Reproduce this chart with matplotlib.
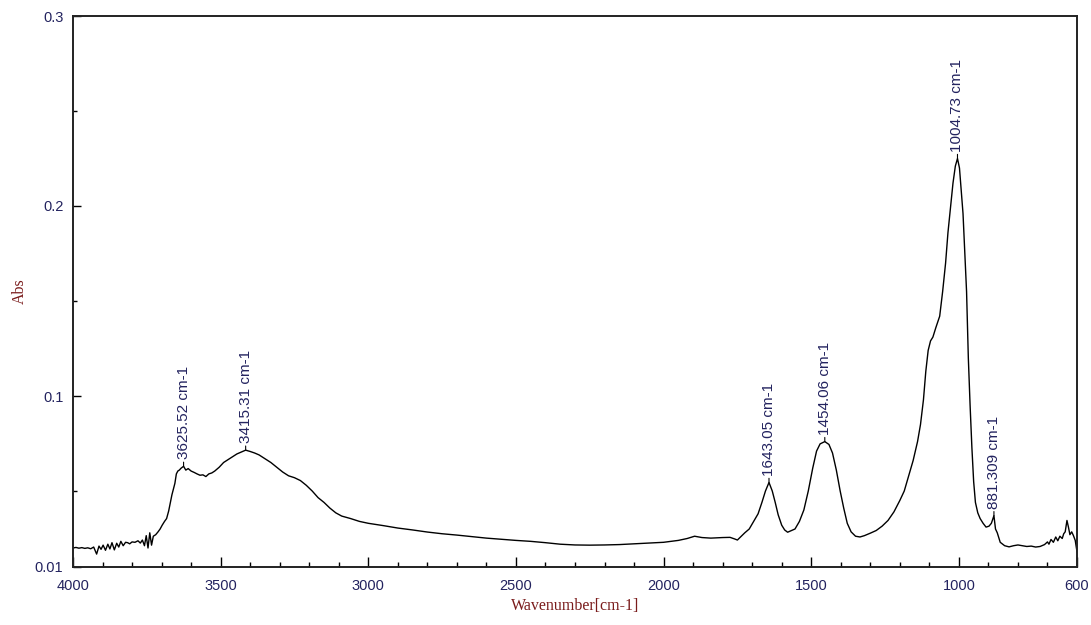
import matplotlib.pyplot as plt
from matplotlib.ticker import MultipleLocator, FixedLocator

# spectrum (wavenumber in cm-1, absorbance)
wavenumber = [
    4000, 3990, 3980, 3970, 3960, 3950, 3940, 3930, 3920, 3912, 3905, 3898,
    3890, 3882, 3875, 3868, 3860, 3852, 3845, 3838, 3830, 3822, 3815, 3808,
    3800, 3790, 3780, 3772, 3765, 3758, 3752, 3746, 3740, 3734, 3728, 3720,
    3712, 3705, 3698, 3690, 3683, 3676, 3670, 3665, 3660, 3655, 3650, 3645,
    3640, 3634, 3625.52, 3618, 3610, 3600, 3590, 3580, 3570, 3560, 3550, 3540,
    3530, 3520, 3505, 3490, 3475, 3460, 3445, 3430, 3415.31, 3400, 3385, 3370,
    3350, 3330, 3310, 3290, 3270, 3250, 3230, 3210, 3190, 3170, 3150, 3130,
    3110, 3090, 3060, 3030, 3000, 2950, 2900, 2850, 2800, 2750, 2700, 2650,
    2600, 2550, 2500, 2450, 2400, 2350, 2300, 2250, 2200, 2150, 2100, 2050,
    2000, 1950, 1920, 1895, 1870, 1840, 1800, 1775, 1760, 1750, 1738, 1725,
    1710, 1695, 1680, 1667, 1655, 1643.05, 1632, 1622, 1612, 1600, 1590, 1580,
    1570, 1555, 1540, 1525, 1510, 1495, 1482, 1470, 1454.06, 1440, 1428, 1415,
    1402, 1390, 1378, 1365, 1350, 1335, 1320, 1300, 1280, 1260, 1240, 1220,
    1200, 1185, 1170, 1155, 1140, 1130, 1120, 1112, 1104, 1096, 1088, 1078,
    1065, 1055, 1045, 1037, 1028, 1020, 1012, 1004.73, 998, 992, 986, 980,
    974, 968, 962, 956, 950, 944, 936, 928, 918, 908, 898, 890,
    881.309, 876, 870, 860, 845, 830, 815, 800, 785, 770, 755, 740,
    725, 710, 700, 695, 688, 680, 672, 665, 658, 650, 645, 640,
    634, 629, 624, 618, 612, 606, 600,
]
absorbance = [
    0.0200, 0.0203, 0.0199, 0.0202, 0.0198, 0.0201, 0.0196, 0.0205, 0.0168, 0.0210, 0.0193, 0.0215,
    0.0188, 0.0220, 0.0195, 0.0228, 0.0190, 0.0225, 0.0205, 0.0235, 0.0212, 0.0230, 0.0228, 0.0222,
    0.0232, 0.0230, 0.0238, 0.0226, 0.0242, 0.0212, 0.0265, 0.0200, 0.0280, 0.0215, 0.0262, 0.0270,
    0.0285, 0.0300, 0.0320, 0.0340, 0.0355, 0.0395, 0.0440, 0.0480, 0.0510, 0.0540, 0.0590, 0.0605,
    0.0610, 0.0620, 0.0630, 0.0610, 0.0618, 0.0605, 0.0598, 0.0590, 0.0583, 0.0585, 0.0576, 0.0590,
    0.0595, 0.0605, 0.0625, 0.0650, 0.0665, 0.0680, 0.0695, 0.0705, 0.0715, 0.0708, 0.0700, 0.0690,
    0.0670, 0.0650, 0.0625, 0.0600, 0.0580, 0.0570, 0.0555, 0.0530, 0.0500, 0.0465, 0.0440, 0.0410,
    0.0385, 0.0368, 0.0355, 0.0340, 0.0330, 0.0318, 0.0305, 0.0295, 0.0284, 0.0275, 0.0268, 0.0260,
    0.0252, 0.0246, 0.0240, 0.0235, 0.0228, 0.0220, 0.0216, 0.0215, 0.0216, 0.0218, 0.0222, 0.0226,
    0.0230, 0.0240, 0.0250, 0.0262, 0.0255, 0.0252, 0.0255, 0.0256, 0.0248, 0.0242, 0.0260, 0.0280,
    0.0300, 0.0340, 0.0380, 0.0440, 0.0500, 0.0545, 0.0500, 0.0440, 0.0375, 0.0320, 0.0295, 0.0283,
    0.0290, 0.0300, 0.0340, 0.0400, 0.0500, 0.0620, 0.0710, 0.0748, 0.0760, 0.0745, 0.0700, 0.0610,
    0.0500, 0.0410, 0.0330, 0.0285, 0.0262, 0.0258, 0.0265, 0.0278, 0.0292, 0.0315, 0.0345, 0.0390,
    0.0450, 0.0500, 0.0580, 0.0660, 0.0760, 0.0850, 0.0980, 0.1130, 0.1240, 0.1290, 0.1310, 0.1360,
    0.1420, 0.1550, 0.1700, 0.1860, 0.2000, 0.2120, 0.2210, 0.2250, 0.2200, 0.2080, 0.1960, 0.1750,
    0.1550, 0.1200, 0.0950, 0.0730, 0.0550, 0.0440, 0.0385, 0.0355, 0.0330, 0.0310, 0.0315, 0.0330,
    0.0370, 0.0300, 0.0280, 0.0230, 0.0212, 0.0206, 0.0212, 0.0216, 0.0212, 0.0208, 0.0210, 0.0205,
    0.0208, 0.0218, 0.0232, 0.0220, 0.0245, 0.0230, 0.0258, 0.0238, 0.0262, 0.0250, 0.0275, 0.0285,
    0.0345, 0.0310, 0.0270, 0.0285, 0.0265, 0.0240, 0.0180,
]

peak_wn = [3625.52, 3415.31, 1643.05, 1454.06, 1004.73, 881.309]
peak_abs = [0.0630, 0.0715, 0.0545, 0.0760, 0.2250, 0.0370]
peak_labels = ["3625.52 cm-1", "3415.31 cm-1", "1643.05 cm-1",
               "1454.06 cm-1", "1004.73 cm-1", "881.309 cm-1"]

x_ticks = [4000, 3500, 3000, 2500, 2000, 1500, 1000, 600]
y_ticks = [0.01, 0.1, 0.2, 0.3]
y_tick_labels = ["0.01", "0.1", "0.2", "0.3"]

navy = "#23235f"
maroon = "#7a1c1c"

fig = plt.figure(figsize=(10.91, 6.25), dpi=100)
ax = fig.add_axes([73 / 1091, 1 - 567 / 625, 1004 / 1091, 551 / 625])

ax.plot(wavenumber, absorbance, color="black", lw=1.0)

for wn, a, lab in zip(peak_wn, peak_abs, peak_labels):
    ax.annotate(lab, xy=(wn, a), xytext=(0, 5), textcoords="offset points",
                rotation=90, ha="center", va="bottom", color=navy,
                fontsize=11, family="Liberation Sans",
                arrowprops=dict(arrowstyle="-", color="black", lw=0.8,
                                shrinkA=0, shrinkB=0))

ax.set_xlim(4000, 600)
ax.set_ylim(0.01, 0.3)
ax.xaxis.set_major_locator(FixedLocator(x_ticks))
ax.xaxis.set_minor_locator(MultipleLocator(100))
ax.yaxis.set_major_locator(FixedLocator(y_ticks))
ax.yaxis.set_minor_locator(FixedLocator([0.05, 0.15, 0.25]))
ax.set_yticklabels(y_tick_labels)

ax.tick_params(which="both", direction="in", colors="black",
               labelcolor=navy, labelsize=10.5)
ax.tick_params(axis="x", which="major", length=7, width=1, pad=9)
ax.tick_params(axis="x", which="minor", length=3.5, width=1)
ax.tick_params(axis="y", which="major", length=6, width=1, pad=7)
ax.tick_params(axis="y", which="minor", length=3, width=1)
for t in ax.get_xticklabels() + ax.get_yticklabels():
    t.set_family("Liberation Sans")

for s in ax.spines.values():
    s.set_linewidth(1.4)
    s.set_color("#222222")

ax.set_xlabel("Wavenumber[cm-1]", family="Liberation Serif", fontsize=11.5,
              color=maroon, labelpad=3)
ax.set_ylabel("Abs", family="Liberation Serif", fontsize=11.5,
              color=maroon, labelpad=5)

fig.savefig("out.png", dpi=100)
